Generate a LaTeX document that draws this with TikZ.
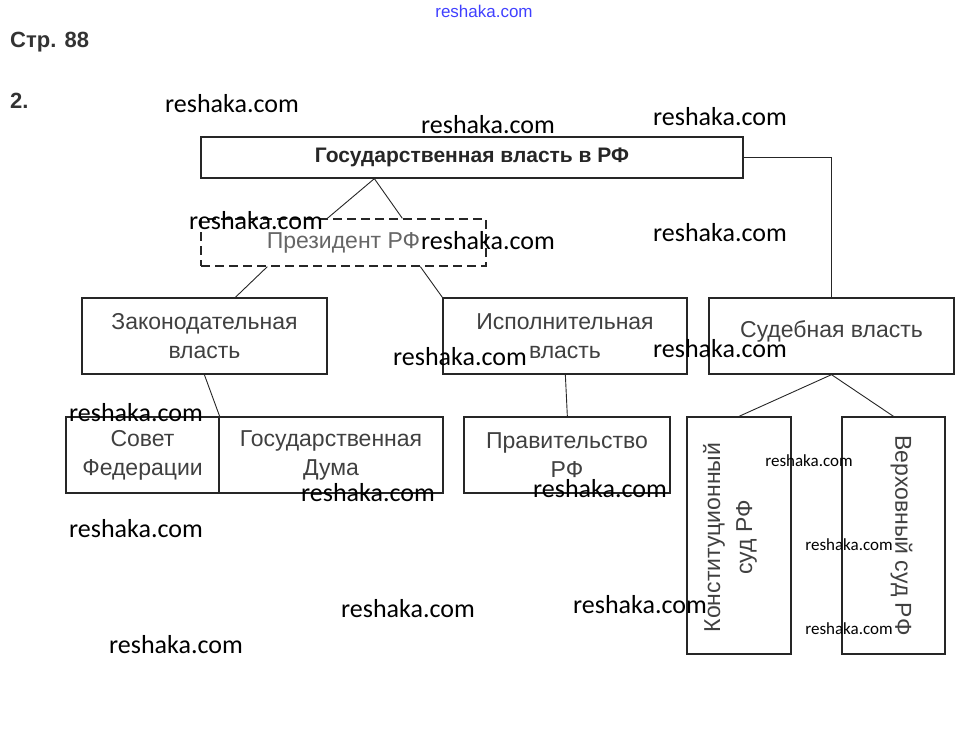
\documentclass[tikz,border=0pt]{standalone}
\usepackage{fontspec}
\setmainfont{Liberation Sans}
\newfontfamily\wmfont{Carlito}
\usepackage{tikz}

\begin{document}
\begin{tikzpicture}[x=1pt,y=-1pt,
  box/.style={draw=black!85,line width=1.3pt,inner sep=0pt,align=center,
    text=black!75,font=\fontsize{23}{29}\selectfont},
  link/.style={draw=black!85,line width=0.9pt},
  wm/.style={inner sep=0pt,font=\wmfont\fontsize{26}{26}\selectfont}]
\useasboundingbox (0,0) rectangle (965,740);
% heading
\node[text=blue!75,font=\fontsize{17}{17}\selectfont] (site) at (484,11) {reshaka.com};
\node[anchor=west,inner sep=0pt,text=black!80,font=\bfseries\fontsize{22}{22}\selectfont] (page) at (10,42) {Стр. 88};
\node[anchor=west,inner sep=0pt,text=black!80,font=\bfseries\fontsize{22}{22}\selectfont] (num) at (10,101) {2.};
% boxes
\node[box,minimum width=542pt,minimum height=41pt,text=black!85,font=\bfseries\fontsize{21}{21}\selectfont] (gov) at (472,157.5) {Государственная власть в РФ};
\node[box,dashed,dash pattern=on 9pt off 5pt,minimum width=285pt,minimum height=47pt,text=black!60] (pres) at (343.5,242.5) {Президент РФ};
\node[box,minimum width=245pt,minimum height=76pt] (zak) at (204.5,336) {Законодательная\\власть};
\node[box,minimum width=244pt,minimum height=76pt] (isp) at (565,336) {Исполнительная\\власть};
\node[box,minimum width=245pt,minimum height=76pt] (sud) at (831.5,336) {\raisebox{14pt}{Судебная власть}};
\node[box,minimum width=153pt,minimum height=76pt] (sovet) at (142.5,455) {Совет\\Федерации};
\node[box,minimum width=224pt,minimum height=76pt] (duma) at (331,455) {Государственная\\Дума};
\node[box,minimum width=206pt,minimum height=76pt] (prav) at (567,455) {Правительство\\РФ};
\node[box,minimum width=104pt,minimum height=237pt,
  label={[rotate=90,xshift=-2pt,yshift=9pt,align=center,text=black!75,font=\fontsize{23}{32}\selectfont]center:Конституционный\\суд РФ}] (ksud) at (739,535.5) {};
\node[box,minimum width=103pt,minimum height=237pt,
  label={[rotate=-90,yshift=8pt,text=black!75,font=\fontsize{23}{29}\selectfont]center:Верховный суд РФ}] (vsud) at (893.5,535.5) {};
% links
\draw[link] ([xshift=174pt]gov.south west) -- ([xshift=127pt]pres.north west);
\draw[link] ([xshift=174pt]gov.south west) -- ([xshift=202pt]pres.north west);
\draw[link] (gov.east) -| (sud.north);
\draw[link] ([xshift=67pt]pres.south west) -- ([xshift=154pt]zak.north west);
\draw[link] ([xshift=220pt]pres.south west) -- (isp.north west);
\draw[link] ([xshift=123pt]zak.south west) -- (sovet.north east);
\draw[link] ([xshift=123pt]isp.south west) -- ([xshift=104pt]prav.north west);
\draw[link] (sud.south) -- (ksud.north);
\draw[link] (sud.south) -- (vsud.north);
% watermarks
\foreach \p [count=\i] in {(232,104),(488,125),(720,117),(256,221),(488,241),
  (720,233),(460,357),(720,349),(136,413),(368,493),(600,489),(136,529),
  (408,609),(640,605),(176,645)}
  \node[wm] (wm\i) at \p {reshaka.com};
\foreach \p [count=\i] in {(809,461),(849,545),(849,629)}
  \node[wm,font=\wmfont\fontsize{17}{17}\selectfont] (wms\i) at \p {reshaka.com};
\end{tikzpicture}
\end{document}
